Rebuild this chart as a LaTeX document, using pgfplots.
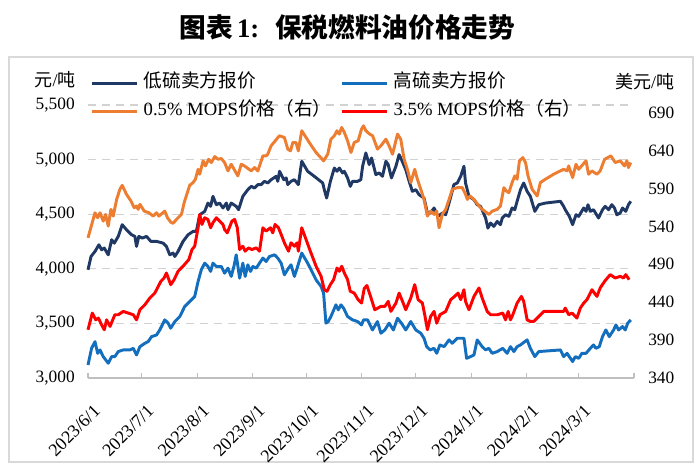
\documentclass[border=0pt]{standalone}
\usepackage{pgfplots}
\pgfplotsset{compat=1.18}
\usepackage{pgfplotstable}
\usepackage{fontspec}
\setmainfont{Liberation Serif}
\newfontfamily\cjk{Noto Sans CJK SC}
\definecolor{navyc}{RGB}{31,56,100}
\definecolor{bluec}{RGB}{20,110,190}
\definecolor{orangec}{RGB}{237,125,49}
\definecolor{redc}{RGB}{255,0,0}
\definecolor{axisgray}{RGB}{191,191,191}
\definecolor{gridgray}{RGB}{210,210,210}
\definecolor{framegray}{RGB}{217,217,217}

\pgfplotstableread{
d v
0 3991
1.7 4113
3.9 4159
6.1 4220
7.6 4174
9.1 4190
11.3 4128
13.2 4266
14.7 4235
16.9 4297
19.1 4404
21.5 4358
24.3 4312
26.2 4297
27.1 4205
28.4 4297
30.3 4281
32.7 4297
35.1 4251
38.3 4251
42.0 4235
43.8 4205
45.7 4128
47.5 4144
48.5 4113
50.3 4159
53.1 4251
55.9 4312
58.7 4342
60.5 4342
62.4 4495
65.2 4526
67.0 4602
68.5 4572
69.8 4664
71.7 4587
73.5 4602
75.4 4557
77.3 4602
78.2 4541
80.0 4602
82.8 4572
84.1 4541
86.5 4664
89.3 4725
91.2 4755
93.0 4740
94.9 4771
96.7 4771
98.6 4801
100.4 4786
102.3 4816
105.1 4847
106.0 4801
107.0 4893
109.4 4816
110.7 4832
111.6 4771
113.4 4801
115.3 4816
117.5 4771
119.4 4985
122.7 4893
126.4 4847
131.1 4786
132.0 4725
133.3 4648
135.4 4801
137.6 4923
139.1 4893
140.4 4923
142.2 4878
143.2 4893
145.0 4832
146.5 4755
147.8 4801
150.6 4801
152.4 4816
153.4 4939
155.2 5061
157.1 4954
158.4 5015
160.8 4862
162.7 4878
164.5 4847
166.4 4985
167.7 4954
169.5 4832
172.0 4939
173.8 5046
175.1 5000
177.5 4908
179.4 4801
181.2 4709
183.1 4725
184.9 4679
187.7 4648
189.6 4511
191.4 4511
193.3 4557
195.5 4480
198.0 4511
199.8 4495
202.2 4633
204.4 4771
206.3 4786
208.2 4847
210.0 4939
210.9 4786
212.8 4664
215.6 4633
217.4 4587
219.3 4572
222.1 4465
223.4 4373
224.9 4419
226.7 4388
228.6 4434
230.4 4404
231.4 4465
233.2 4495
235.1 4480
236.9 4557
238.4 4541
239.7 4618
241.6 4725
243.4 4786
245.3 4709
247.1 4664
249.6 4526
251.8 4587
255.5 4602
263.9 4618
265.7 4572
266.6 4541
268.9 4480
270.7 4404
272.6 4495
274.1 4480
276.9 4557
278.2 4526
279.3 4587
280.6 4526
282.4 4541
285.2 4465
287.4 4541
288.9 4572
290.8 4541
292.6 4587
294.1 4557
295.4 4495
297.3 4511
298.6 4557
300.4 4526
301.9 4587
303.2 4618
}\lowS

\pgfplotstableread{
d v
0 3119
2.0 3272
3.9 3333
5.4 3226
6.7 3257
8.5 3196
11.3 3135
13.2 3196
15.0 3196
16.9 3242
19.7 3257
23.4 3257
25.3 3272
27.1 3211
29.0 3287
31.8 3318
33.6 3333
35.5 3379
38.3 3394
40.1 3440
42.9 3532
44.8 3502
46.2 3456
48.5 3517
51.3 3563
54.0 3654
57.8 3716
59.6 3746
61.5 3884
63.3 3991
65.2 4052
67.0 4021
68.5 3976
69.8 4052
71.7 4021
74.5 4021
76.3 3960
78.2 4006
80.0 3930
81.5 4021
82.8 4128
84.7 3914
86.5 4052
87.8 3930
89.3 4037
90.8 3976
92.1 4021
94.0 4006
95.8 4052
97.7 4098
99.5 4067
101.4 4113
104.2 4128
106.0 4098
107.9 4052
109.7 3945
112.0 4006
113.4 4037
115.3 3930
116.8 4006
119.4 4144
122.7 4052
124.6 3991
127.4 3899
130.2 3838
131.6 3777
132.9 3502
134.2 3517
135.7 3563
138.5 3670
139.8 3624
141.3 3670
142.8 3639
145.0 3563
147.8 3532
150.6 3517
152.8 3486
153.9 3532
156.2 3532
158.9 3440
161.7 3517
163.6 3410
165.8 3440
168.2 3502
170.6 3440
172.9 3547
175.1 3502
177.5 3440
180.3 3517
183.1 3440
185.9 3410
187.7 3364
189.2 3287
191.1 3257
193.3 3272
194.8 3226
196.6 3303
198.9 3287
201.7 3349
203.5 3318
206.3 3364
210.0 3364
211.5 3180
213.7 3196
215.6 3211
217.4 3349
220.2 3287
222.1 3257
223.9 3272
225.8 3226
228.6 3242
231.7 3272
234.1 3226
236.0 3287
237.9 3242
239.7 3287
241.6 3303
244.0 3333
245.3 3349
247.1 3272
249.6 3196
251.8 3242
263.9 3257
265.7 3196
267.6 3226
270.7 3150
272.2 3196
274.1 3180
275.9 3226
278.2 3226
280.6 3272
282.4 3303
283.7 3272
285.6 3287
287.4 3379
289.3 3440
291.2 3379
293.6 3440
294.9 3486
296.4 3440
298.6 3471
300.1 3440
301.5 3502
303.2 3532
}\highS

\pgfplotstableread{
d v
0 524.8
3.9 557.9
5.4 551.3
6.7 557.9
8.5 546.9
9.8 555.7
11.3 540.3
12.8 562.4
14.1 553.5
16.0 575.5
17.8 588.8
19.1 594.1
21.5 582.2
24.0 573.4
25.8 564.5
27.1 566.8
28.0 562.4
29.0 569.0
31.4 560.1
34.0 557.9
36.4 553.5
38.3 557.9
39.6 553.5
42.9 560.1
44.4 551.3
46.2 545.6
47.5 543.9
49.4 549.1
52.2 555.7
53.7 571.1
56.8 594.1
58.7 597.7
60.0 602.1
61.5 615.2
62.4 608.7
64.3 626.4
65.6 619.7
67.4 628.5
68.9 624.1
70.8 632.0
72.6 628.5
74.5 629.4
76.3 624.1
78.2 613.1
80.0 621.9
83.7 606.5
85.6 621.9
87.4 619.7
91.2 613.1
93.0 617.5
94.9 613.1
97.7 632.9
99.5 632.9
100.4 635.1
102.3 646.2
106.9 659.4
109.7 657.2
111.6 641.8
113.1 639.5
114.4 650.5
116.2 650.5
117.5 639.5
119.4 666.1
121.8 657.2
124.2 648.4
127.4 637.4
131.6 626.4
133.9 635.1
135.7 654.9
137.6 659.4
139.1 666.1
140.4 661.6
141.7 670.4
143.2 663.8
145.0 652.8
146.9 637.4
148.7 650.5
150.9 652.8
152.8 668.2
153.9 672.6
155.2 666.1
157.1 662.0
159.0 659.4
161.7 641.8
163.6 646.2
166.4 654.9
168.2 646.2
170.1 635.1
172.9 661.6
174.7 654.9
176.6 628.5
178.4 615.2
180.3 597.7
182.5 615.2
184.0 602.1
185.9 588.8
187.7 575.5
189.6 553.5
191.4 560.1
193.3 555.7
194.8 560.1
196.1 538.1
197.9 555.7
199.8 562.4
201.7 575.5
203.5 588.8
206.3 591.0
209.1 591.0
210.9 582.2
211.9 575.5
213.4 580.0
215.6 575.5
218.4 566.8
220.2 562.4
224.0 555.7
225.8 560.1
228.6 562.4
230.4 566.8
232.3 591.0
233.6 586.7
235.1 584.4
236.9 597.7
238.4 606.5
239.7 602.1
241.0 626.4
242.9 630.7
244.4 624.1
245.8 606.5
248.1 588.8
250.9 580.0
252.7 597.7
255.5 602.1
260.1 608.7
265.7 615.2
267.6 613.1
268.5 619.7
270.7 604.2
272.6 621.9
274.1 615.2
278.2 626.4
279.6 608.7
281.5 613.1
284.3 608.7
286.1 613.1
288.6 628.5
292.1 632.9
294.5 624.1
297.3 626.4
299.7 619.7
301.0 626.4
301.9 617.5
303.2 624.1
}\mopsLow

\pgfplotstableread{
d v
0 403.6
2.4 425.6
4.3 416.7
5.8 419.0
7.6 410.1
9.1 403.6
10.4 416.7
12.3 408.0
15.0 423.4
16.9 423.4
19.7 427.8
22.5 425.6
25.3 423.4
27.1 416.7
29.0 430.0
31.8 436.6
34.5 445.4
37.3 452.0
38.3 456.4
40.7 467.5
42.5 471.9
43.8 478.5
46.2 463.1
48.1 469.7
50.3 480.7
53.1 487.4
56.3 496.1
58.1 509.4
59.6 513.8
61.5 538.1
62.4 555.7
63.7 542.5
65.2 551.3
67.0 549.1
68.5 538.1
69.8 544.7
71.7 551.3
73.5 546.9
75.4 542.5
76.3 535.8
77.8 531.4
80.4 546.9
81.9 549.1
83.4 538.1
84.7 509.4
86.5 513.8
87.8 507.2
89.7 511.6
91.5 509.4
94.0 511.6
95.8 507.2
97.7 538.1
99.5 533.7
101.9 538.1
103.2 531.4
104.5 542.5
106.4 538.1
107.9 529.3
109.7 518.3
112.0 507.2
113.4 518.3
115.3 513.8
116.8 518.3
117.5 507.2
119.4 538.1
121.8 522.7
124.2 507.2
127.4 487.4
130.2 474.1
132.0 456.4
133.5 454.3
135.4 463.1
137.2 469.7
139.1 485.1
140.4 480.7
141.7 487.4
143.2 478.5
145.0 469.7
146.5 454.3
148.7 452.0
150.9 443.3
152.8 438.8
154.3 458.0
155.8 462.0
157.5 450.0
160.2 430.0
163.6 434.4
165.8 434.4
167.7 441.0
169.2 427.8
172.0 438.8
173.8 452.0
175.7 441.0
177.5 430.0
180.3 445.4
182.5 463.1
184.4 443.3
186.8 438.8
188.1 423.4
189.6 403.6
191.4 421.2
193.3 427.8
194.8 412.3
196.6 423.4
199.8 427.8
202.6 443.3
204.8 447.6
206.7 452.0
208.2 443.3
210.0 456.4
210.9 441.0
212.8 430.0
215.6 447.6
218.4 458.7
220.2 445.4
223.0 427.8
224.9 423.4
228.6 423.4
231.7 425.6
233.2 416.7
234.7 427.8
236.0 416.7
237.3 423.4
239.7 438.8
242.1 447.6
243.4 441.0
245.3 416.7
247.1 414.6
249.0 414.6
251.8 421.2
254.6 427.8
265.7 427.8
266.6 432.2
268.5 423.4
270.4 425.6
273.1 419.0
275.0 432.2
276.9 438.8
278.7 443.3
281.5 456.4
284.3 447.6
286.1 458.7
288.6 467.5
291.7 476.3
294.5 471.9
297.3 474.1
299.1 471.9
300.4 476.3
302.3 469.7
}\mopsHigh

\begin{document}
\begin{tikzpicture}
\useasboundingbox (0,0) rectangle (525pt,356.25pt);
\draw[framegray, line width=1.1pt] (6.75pt,9.75pt) rectangle (519.75pt,313.5pt);
\node[font=\fontsize{20}{24}\selectfont\bfseries] at (260.5pt,336pt)
  {{\cjk 图表}\,1:\hspace{0.6em}{\cjk 保税燃料油价格走势}};
\node[font=\fontsize{13.5}{16}\selectfont] at (41.25pt,296.5pt) {{\cjk 元}/{\cjk 吨}};
\node[font=\fontsize{13.5}{16}\selectfont] at (483.5pt,294.75pt) {{\cjk 美元}/{\cjk 吨}};

\begin{axis}[
  at={(66pt,72.75pt)}, anchor=south west,
  scale only axis, width=409.5pt, height=204.75pt,
  xmin=0, xmax=305, ymin=3000, ymax=5500,
  axis x line*=bottom, axis y line*=left,
  every outer x axis line/.append style={-},
  every outer y axis line/.append style={-},
  x axis line style={draw=axisgray, line width=0.8pt, -},
  y axis line style={draw=none},
  xtick={0,30,61,92,122,153,183,214,245,274,305},
  xticklabels={2023/6/1,2023/7/1,2023/8/1,2023/9/1,2023/10/1,2023/11/1,2023/12/1,2024/1/1,2024/2/1,2024/3/1,{}},
  xtick align=inside, major tick length=3.75pt,
  xtick style={draw=axisgray, line width=0.8pt},
  ytick={3000,3500,4000,4500,5000,5500},
  ytick style={draw=none},
  ymajorgrids,
  grid style={draw=gridgray, line width=0.9pt, dash pattern=on 6pt off 4.5pt},
  yticklabel style={font=\fontsize{13}{15}\selectfont, anchor=east, inner xsep=0pt, xshift=-9.75pt},
  xticklabel style={font=\fontsize{13.5}{15}\selectfont, inner sep=0pt, xshift=3.5pt, yshift=-19pt, rotate=45, anchor=north east},
  /pgf/number format/assume math mode=true,
  /pgf/number format/1000 sep={,},
  clip=false,
]
\addplot[navyc, line width=2.2pt, line join=round, no marks] table[x=d,y=v] {\lowS};
\addplot[bluec, line width=2.2pt, line join=round, no marks] table[x=d,y=v] {\highS};
\end{axis}

\begin{axis}[
  at={(66pt,72.75pt)}, anchor=south west,
  scale only axis, width=409.5pt, height=204.75pt,
  xmin=0, xmax=305, ymin=340, ymax=700,
  axis x line=none, axis y line*=right,
  every outer y axis line/.append style={-},
  y axis line style={draw=none},
  ytick={340,390,440,490,540,590,640,690},
  ytick style={draw=none},
  yticklabel style={font=\fontsize{13}{15}\selectfont, anchor=west, inner xsep=0pt, xshift=10.5pt},
  /pgf/number format/assume math mode=true,
  clip=false,
  legend columns=2,
  legend cell align=left,
  legend image code/.code={\draw[#1, line width=2.2pt] (0pt,0pt) -- (34pt,0pt);},
  legend style={draw=none, fill=none, at={(-0.004,1.124)}, anchor=north west,
    font=\fontsize{14}{16}\selectfont,
    nodes={inner sep=0pt, text height=10pt, text depth=3.5pt},
    row sep=7.5pt,
    /tikz/every odd column/.append style={column sep=4pt},
    /tikz/every even column/.append style={column sep=6.5pt}},
]
\addlegendimage{navyc}
\addlegendentry{{\cjk 低硫卖方报价}}
\addlegendimage{bluec}
\addlegendentry{{\cjk 高硫卖方报价}}
\addplot[orangec, line width=2.2pt, line join=round, no marks] table[x=d,y=v] {\mopsLow};
\addlegendentry{0.5\% MOPS{\cjk 价格（右）}}
\addplot[redc, line width=2.2pt, line join=round, no marks] table[x=d,y=v] {\mopsHigh};
\addlegendentry{3.5\% MOPS{\cjk 价格（右）}}
\end{axis}
\end{tikzpicture}
\end{document}
